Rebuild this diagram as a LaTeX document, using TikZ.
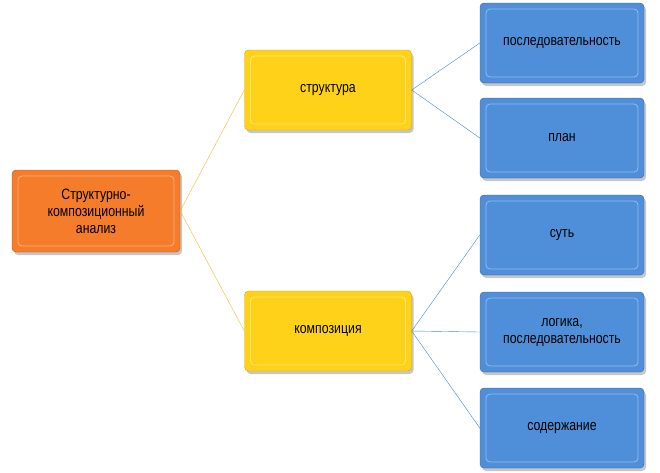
\documentclass[tikz,border=0pt]{standalone}
\usepackage{fontspec}
\setmainfont{Liberation Sans}[FakeStretch=0.82]
\usetikzlibrary{shadows}
\definecolor{orfill}{HTML}{F47C2A}
\definecolor{ordraw}{HTML}{C2561A}
\definecolor{yefill}{HTML}{FFD21A}
\definecolor{yedraw}{HTML}{D9A800}
\definecolor{blfill}{HTML}{4F8FD9}
\definecolor{bldraw}{HTML}{2E66A8}
\definecolor{yeline}{HTML}{E8C02A}
\definecolor{blline}{HTML}{4A86C8}
\tikzset{
  box/.style={rounded corners=4pt, minimum width=167pt, minimum height=80pt, align=center,
    font=\fontsize{15}{17}\selectfont, drop shadow={shadow xshift=2pt, shadow yshift=-3pt, opacity=0.45},
    path picture={\draw[#1!60!white, line width=0.8pt]
      ([shift={(6pt,-6pt)}]path picture bounding box.north west) rectangle
      ([shift={(-6pt,6pt)}]path picture bounding box.south east);}},
  rootbox/.style={box=orfill, fill=orfill, draw=ordraw},
  midbox/.style={box=yefill, fill=yefill, draw=yedraw},
  leafbox/.style={box=blfill, fill=blfill, draw=bldraw, minimum width=164pt},
}
\begin{document}
\begin{tikzpicture}[x=1pt, y=-1pt]
  \useasboundingbox (0,0) rectangle (660,472);

  % root
  \node[rootbox, minimum width=168pt, minimum height=82pt] (analiz) at (96,211) {Структурно-\\композиционный\\анализ};

  % middle level
  \node[midbox] (struktura) at (328,90) {структура};
  \node[midbox] (kompoziciya) at (328,331) {композиция};

  % leaves
  \node[leafbox] (posled) at (562,43) {последовательность};
  \node[leafbox] (plan) at (562,138) {план};
  \node[leafbox] (sut) at (562,235) {суть};
  \node[leafbox] (logika) at (562,332) {логика,\\последовательность};
  \node[leafbox] (soderzh) at (562,428) {содержание};

  \draw[yeline] (analiz.east) -- (struktura.west);
  \draw[yeline] (analiz.east) -- (kompoziciya.west);
  \foreach \leaf in {posled, plan}
    \draw[blline] (struktura.east) -- (\leaf.west);
  \foreach \leaf in {sut, logika, soderzh}
    \draw[blline] (kompoziciya.east) -- (\leaf.west);
\end{tikzpicture}
\end{document}
